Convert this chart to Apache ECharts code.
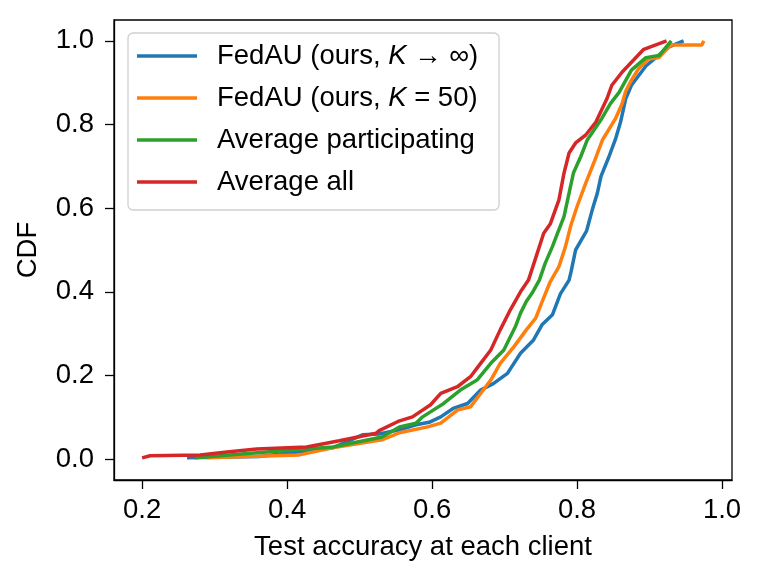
<!DOCTYPE html>
<html>
<head>
<meta charset="utf-8">
<script src="https://cdn.jsdelivr.net/npm/echarts@6/dist/echarts.min.js"></script>
<style>html,body{margin:0;padding:0;background:#fff}#c{width:761px;height:582px}</style>
</head>
<body>
<div id="c"></div>
<script>
var seriesNames = ['FedAU (ours, K → ∞)', 'FedAU (ours, K = 50)', 'Average participating', 'Average all'];
var xTicks = [0.2, 0.4, 0.6, 0.8, 1.0];
var yTicks = [0.0, 0.2, 0.4, 0.6, 0.8, 1.0];

var fedauInf = [[0.262,0.003],[0.362,0.006],[0.463,0.027],[0.504,0.058],[0.527,0.060],[0.555,0.070],[0.578,0.082],[0.596,0.088],[0.612,0.101],[0.630,0.122],[0.649,0.133],[0.667,0.165],[0.685,0.181],[0.704,0.205],[0.722,0.253],[0.740,0.285],[0.752,0.322],[0.766,0.345],[0.777,0.395],[0.789,0.428],[0.792,0.450],[0.798,0.500],[0.804,0.518],[0.813,0.545],[0.821,0.596],[0.828,0.636],[0.833,0.676],[0.844,0.723],[0.853,0.765],[0.860,0.806],[0.867,0.861],[0.875,0.894],[0.895,0.940],[0.926,0.985],[0.947,1.0]];
var fedau50 = [[0.289,0.003],[0.417,0.010],[0.463,0.027],[0.531,0.046],[0.555,0.063],[0.594,0.077],[0.612,0.086],[0.635,0.117],[0.653,0.125],[0.667,0.157],[0.681,0.189],[0.694,0.229],[0.713,0.269],[0.730,0.309],[0.743,0.337],[0.752,0.377],[0.763,0.424],[0.775,0.460],[0.784,0.508],[0.791,0.556],[0.800,0.604],[0.812,0.660],[0.823,0.708],[0.835,0.763],[0.853,0.814],[0.862,0.849],[0.867,0.879],[0.874,0.903],[0.885,0.934],[0.899,0.957],[0.913,0.960],[0.922,0.977],[0.930,0.990],[0.972,0.990],[0.975,1.0]];
var avgPart = [[0.273,0.003],[0.372,0.017],[0.463,0.029],[0.531,0.053],[0.555,0.077],[0.578,0.086],[0.587,0.101],[0.616,0.133],[0.639,0.165],[0.662,0.189],[0.681,0.229],[0.699,0.261],[0.715,0.317],[0.722,0.349],[0.730,0.377],[0.738,0.397],[0.748,0.428],[0.756,0.468],[0.766,0.508],[0.773,0.540],[0.782,0.580],[0.791,0.652],[0.795,0.684],[0.805,0.723],[0.814,0.763],[0.834,0.814],[0.846,0.850],[0.858,0.877],[0.875,0.930],[0.895,0.960],[0.913,0.965],[0.930,1.0]];
var avgAll = [[0.200,0.003],[0.211,0.008],[0.280,0.010],[0.317,0.017],[0.358,0.024],[0.427,0.029],[0.472,0.044],[0.523,0.062],[0.527,0.068],[0.553,0.090],[0.573,0.101],[0.598,0.130],[0.612,0.157],[0.635,0.173],[0.653,0.197],[0.667,0.229],[0.681,0.261],[0.694,0.309],[0.708,0.357],[0.722,0.400],[0.733,0.428],[0.745,0.492],[0.754,0.540],[0.763,0.562],[0.775,0.620],[0.782,0.684],[0.789,0.732],[0.798,0.756],[0.812,0.775],[0.826,0.806],[0.841,0.861],[0.848,0.894],[0.862,0.925],[0.892,0.980],[0.9235,1.0]];

var colors = ['#1f77b4', '#ff7f0e', '#2ca02c', '#d62728'];
var allData = [fedauInf, fedau50, avgPart, avgAll];
var FONT = '"Liberation Sans", Arial, Helvetica, sans-serif';
var FS = 27.5;

var legendRich = {
  '0': '{a|FedAU (ours, }{i|K}{a| → ∞)}',
  '1': '{a|FedAU (ours, }{i|K}{a| = 50)}',
  '2': '{a|Average participating}',
  '3': '{a|Average all}'
};

var chart = echarts.init(document.getElementById('c'), null, {renderer: 'canvas'});
chart.setOption({
  animation: false,
  backgroundColor: '#fff',
  grid: {left: 114, right: 29, top: 20, bottom: 102, show: true, borderColor: '#000', borderWidth: 1.3, backgroundColor: 'transparent'},
  legend: {
    orient: 'vertical', left: 128, top: 33,
    padding: [8, 21, 13, 9],
    itemWidth: 60, itemHeight: 3.5, itemGap: 12,
    icon: 'rect',
    borderColor: '#d0d0d0', borderWidth: 1.3, borderRadius: 5,
    backgroundColor: 'rgba(255,255,255,0.8)',
    data: seriesNames,
    formatter: function (name) { return legendRich[seriesNames.indexOf(name)]; },
    textStyle: {
      fontFamily: FONT, fontSize: FS, color: '#000', lineHeight: 30, padding: [0, 0, 0, 15],
      rich: {
        a: {fontFamily: FONT, fontSize: FS, color: '#000', lineHeight: 30},
        i: {fontFamily: FONT, fontSize: FS, color: '#000', fontStyle: 'italic', lineHeight: 30}
      }
    }
  },
  xAxis: {
    type: 'value', min: 0.16125, max: 1.01375,
    name: 'Test accuracy at each client', nameLocation: 'middle', nameGap: 53,
    nameTextStyle: {fontFamily: FONT, fontSize: FS, color: '#000'},
    axisLine: {show: true, onZero: false, lineStyle: {color: '#000', width: 1.3}},
    axisTick: {show: true, length: 9, customValues: xTicks, lineStyle: {color: '#000', width: 1.3}},
    axisLabel: {customValues: xTicks, fontFamily: FONT, fontSize: FS, color: '#000', margin: 16,
      formatter: function (v) { return v.toFixed(1); }},
    splitLine: {show: false}
  },
  yAxis: {
    type: 'value', min: -0.05, max: 1.05,
    name: 'CDF', nameLocation: 'middle', nameGap: 72,
    nameTextStyle: {fontFamily: FONT, fontSize: FS, color: '#000'},
    axisLine: {show: true, onZero: false, lineStyle: {color: '#000', width: 1.3}},
    axisTick: {show: true, length: 9, customValues: yTicks, lineStyle: {color: '#000', width: 1.3}},
    axisLabel: {customValues: yTicks, fontFamily: FONT, fontSize: FS, color: '#000', margin: 20,
      formatter: function (v) { return v.toFixed(1); }},
    splitLine: {show: false}
  },
  series: seriesNames.map(function (n, i) {
    return {
      name: n, type: 'line', data: allData[i], showSymbol: false, symbol: 'none',
      color: colors[i], lineStyle: {color: colors[i], width: 3.5}, z: 2 + i
    };
  })
});
</script>
</body>
</html>
